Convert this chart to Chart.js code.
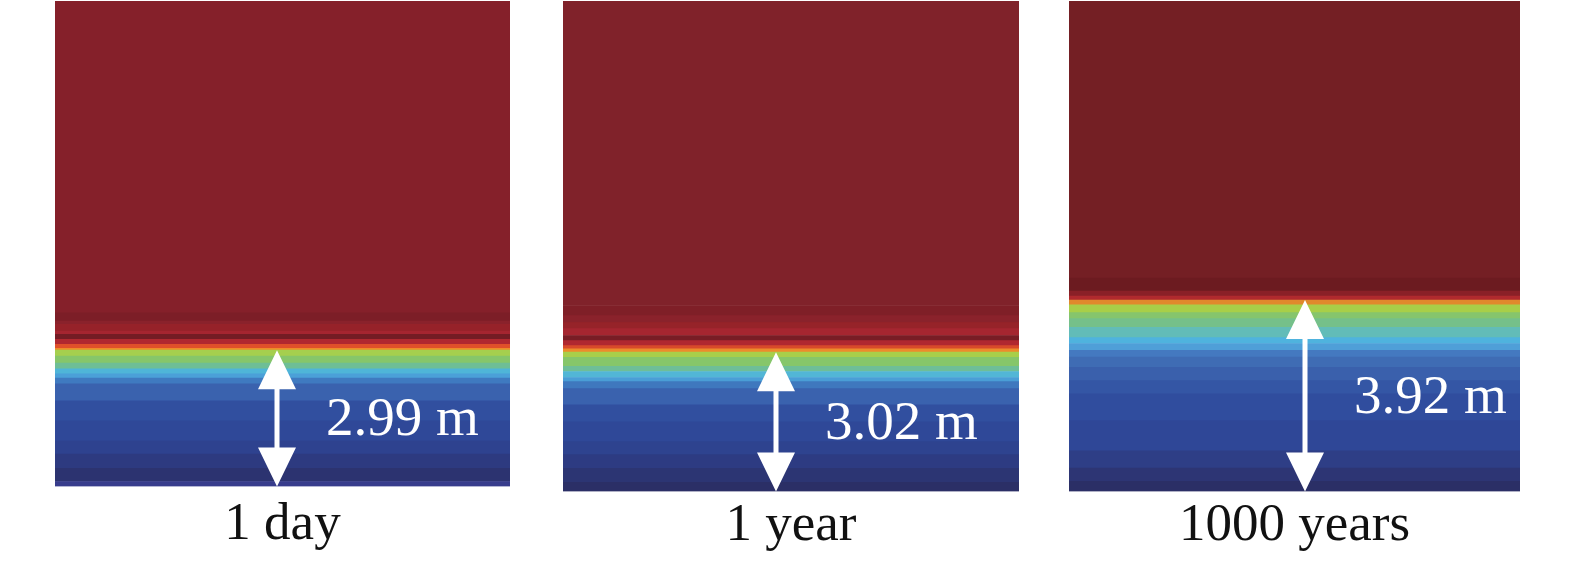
<!DOCTYPE html>
<html lang="en">
<head>
  <meta charset="UTF-8">
  <title>Interface depth over time</title>
  <style>
    html, body { margin: 0; padding: 0; background: #fff; }
    .panel { position: absolute; top: 0; }
  </style>
</head>
<body>
  <div class="panel" style="left:55px"><canvas id="day" width="455" height="565"></canvas></div>
  <div class="panel" style="left:563px"><canvas id="year" width="456" height="565"></canvas></div>
  <div class="panel" style="left:1069px"><canvas id="kyear" width="451" height="565"></canvas></div>

  <script src="https://cdn.jsdelivr.net/npm/chart.js"></script>
  <script>
    // captions and the measured thickness of the lower zone (m)
    const captions = ["1 day", "1 year", "1000 years"];
    const depths = [2.99, 3.02, 3.92];

    // layer thicknesses, bottom to top (m)
    const dayLayers = [0.11, 0.29, 0.31, 0.29, 0.44, 0.44, 0.37, 0.13, 0.09, 0.11, 0.13, 0.15, 0.13,
      0.04, 0.09, 0.11, 0.11, 0.07, 0.15, 0.07, 0.18, 6.84];
    const yearLayers = [0.20, 0.30, 0.30, 0.28, 0.43, 0.37, 0.35, 0.15, 0.09, 0.13, 0.11, 0.20, 0.11,
      0.07, 0.07, 0.11, 0.11, 0.15, 0.13, 0.15, 0.22, 6.60];
    const kyearLayers = [0.21, 0.27, 0.35, 0.62, 0.55, 0.27, 0.27, 0.21, 0.14, 0.14, 0.12, 0.21, 0.18, 0.12, 0.16, 0.10,
      0.08, 0.10, 0.27, 5.67];

    // layer colours (same order)
    const dayColors = ["#373c8c", "#2c3370", "#2d3a80", "#2e428f", "#2f4898", "#314f9f", "#3a62ae", "#3f7ac0",
      "#4ba0d8", "#4fb5d8", "#6ebe96", "#86c66a", "#a5cf4e",
      "#ee8c2a", "#e0502a", "#b02830", "#741c24", "#a52530", "#962229", "#8a222b", "#7c1e27", "#85202a"];
    const yearColors = ["#2b2f66", "#2c3573", "#2d3b82", "#2e438f", "#2f4898", "#314f9f", "#3a62ae", "#3f78be",
      "#4a9ed6", "#52b6d6", "#6ebe98", "#86c66a", "#a8cf4a",
      "#ec8c2c", "#d84a2a", "#b02830", "#781d25", "#a52630", "#962329", "#8a222b", "#7f1f27", "#80222a"];
    const kyearColors = ["#2b2f66", "#2d3574", "#2e3e86", "#2f4797", "#304d9e", "#3456a5", "#3a60ac", "#3f6cb4",
      "#4479c0", "#4f9fd8", "#4fb3de", "#62bcb8", "#75c08a", "#86c56c", "#a8cf48", "#e08a2c",
      "#b02a2e", "#8a2027", "#6c1b20", "#741f24"];

    const panels = [
      { id: "day", layers: dayLayers, colors: dayColors, arrowX: 222, pad: 4.5, bottom: 8.5 },
      { id: "year", layers: yearLayers, colors: yearColors, arrowX: 213, pad: 0, bottom: 12.5 },
      { id: "kyear", layers: kyearLayers, colors: kyearColors, arrowX: 236, pad: 0, bottom: 12.5 }
    ];

    const arrowPlugin = {
      id: "arrow",
      afterDatasetsDraw(chart, args, opts) {
        const ctx = chart.ctx;
        const y = chart.scales.y;
        const top = y.getPixelForValue(opts.depth);
        const bot = y.getPixelForValue(0);
        const x = chart.chartArea.left + opts.x;
        const hw = 19, hh = 39, sw = 2.5;
        ctx.save();
        ctx.fillStyle = "#ffffff";
        ctx.fillRect(x - sw, top + hh - 1, sw * 2, bot - top - 2 * hh + 2);
        ctx.beginPath();
        ctx.moveTo(x, top);
        ctx.lineTo(x + hw, top + hh);
        ctx.lineTo(x - hw, top + hh);
        ctx.closePath();
        ctx.moveTo(x, bot);
        ctx.lineTo(x + hw, bot - hh);
        ctx.lineTo(x - hw, bot - hh);
        ctx.closePath();
        ctx.fill();
        ctx.font = "55px 'Liberation Serif'";
        ctx.textAlign = "left";
        ctx.textBaseline = "alphabetic";
        ctx.fillText(opts.depth.toFixed(2) + " m", x + 49, (top + bot) / 2 + 17);
        ctx.restore();
      }
    };

    panels.forEach(function (p, i) {
      const total = p.layers.reduce(function (a, b) { return a + b; }, 0);
      new Chart(document.getElementById(p.id), {
        type: "bar",
        data: {
          labels: [captions[i]],
          datasets: p.layers.map(function (v, k) {
            return {
              data: [v],
              backgroundColor: p.colors[k],
              borderWidth: 0,
              barPercentage: 1,
              categoryPercentage: 1
            };
          })
        },
        options: {
          responsive: false,
          animation: false,
          layout: { padding: { top: 1, bottom: p.bottom, left: 0, right: 0 } },
          plugins: {
            legend: { display: false },
            tooltip: { enabled: false },
            arrow: { depth: depths[i], x: p.arrowX }
          },
          scales: {
            x: {
              stacked: true,
              grid: { display: false },
              border: { display: false },
              ticks: {
                color: "#111",
                padding: p.pad,
                font: { family: "'Liberation Serif'", size: 53, lineHeight: 1 }
              }
            },
            y: {
              stacked: true,
              display: false,
              min: 0,
              max: total
            }
          }
        },
        plugins: [arrowPlugin]
      });
    });
  </script>
</body>
</html>
